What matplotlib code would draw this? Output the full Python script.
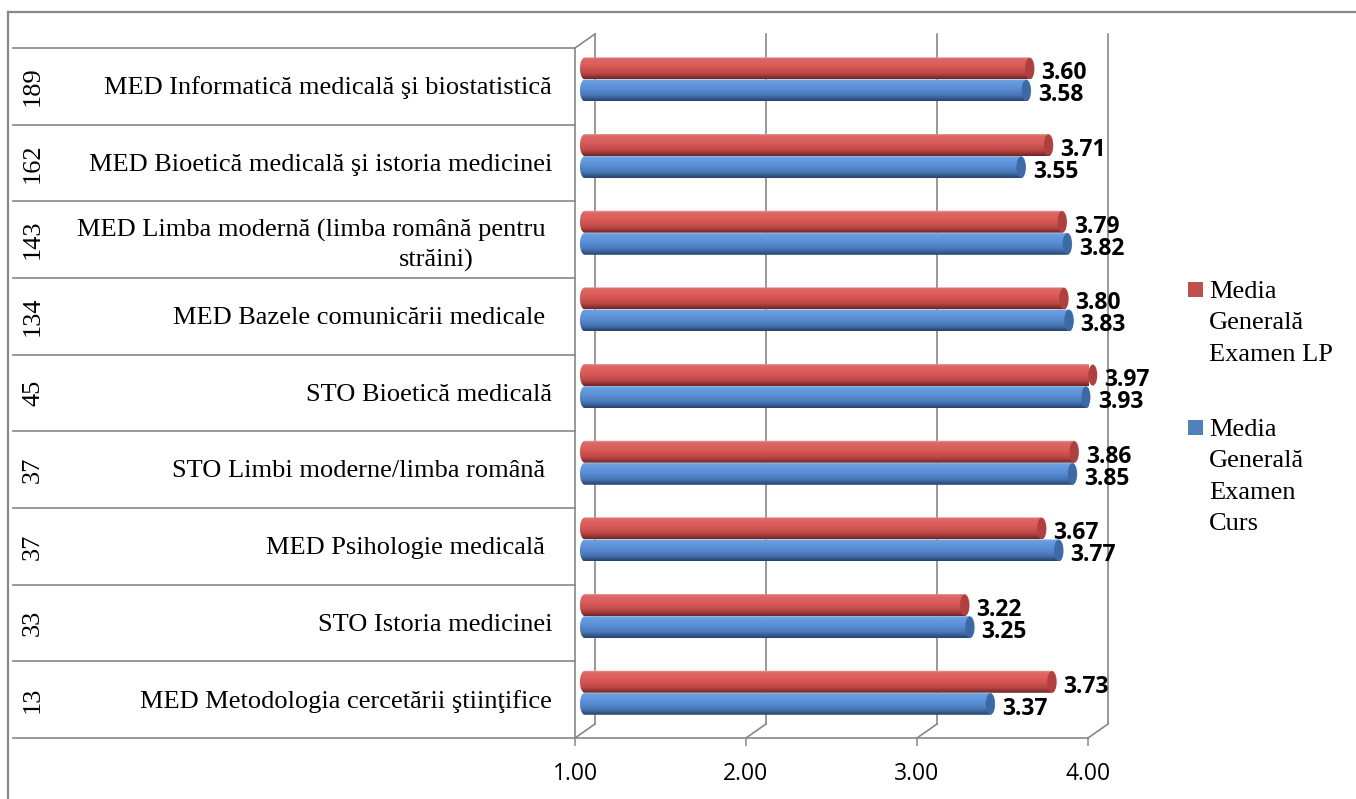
import numpy as np
import matplotlib.pyplot as plt
import matplotlib.transforms as mtransforms
from matplotlib.patches import Ellipse, PathPatch, Rectangle
from matplotlib.path import Path
from matplotlib.lines import Line2D
from matplotlib.colors import LinearSegmentedColormap

categories = [
    'MED Informatică medicală şi biostatistică',
    'MED Bioetică medicală şi istoria medicinei',
    'MED Limba modernă (limba română pentru \nstrăini)',
    'MED Bazele comunicării medicale ',
    'STO Bioetică medicală',
    'STO Limbi moderne/limba română ',
    'MED Psihologie medicală ',
    'STO Istoria medicinei',
    'MED Metodologia cercetării ştiinţifice',
]
counts = [189, 162, 143, 134, 45, 37, 37, 33, 13]
media_lp = [3.60, 3.71, 3.79, 3.80, 3.97, 3.86, 3.67, 3.22, 3.73]
media_curs = [3.58, 3.55, 3.82, 3.83, 3.93, 3.85, 3.77, 3.25, 3.37]
xticks = [1, 2, 3, 4]
series_names = ['Media\nGenerală\nExamen LP', 'Media\nGenerală\nExamen\nCurs']

W, H = 1356, 799
GRAY = '#888888'
SERIF = 'Liberation Serif'
plt.rcParams['font.family'] = ['Open Sans', 'DejaVu Sans']

# 3D look: offsets of the back wall and of the bars (data units)
BACK_DX, BACK_DY = 0.117, -0.183
BAR_DX = 0.058
PAIR_DY = -0.09
BAR_H = 0.287
CAP_W = 0.058

red_cmap = LinearSegmentedColormap.from_list('red', [
    (0.0, '#E9A6A4'), (0.1, '#E06866'), (0.45, '#D85A58'),
    (0.75, '#BC4846'), (0.9, '#913432'), (1.0, '#6B2523')])
blue_cmap = LinearSegmentedColormap.from_list('blue', [
    (0.0, '#A9C6EE'), (0.1, '#6A9EE0'), (0.45, '#5A8FD6'),
    (0.75, '#4876B5'), (0.9, '#34588B'), (1.0, '#26416A')])


def cylinder(ax, yc, v, cmap, capcol):
    x0, x1 = 1 + BAR_DX, v + BAR_DX
    rx, ry = CAP_W / 2, BAR_H / 2
    t = np.linspace(-np.pi / 2, np.pi / 2, 40)
    right = np.column_stack([x1 + rx * np.cos(t), yc + ry * np.sin(t)])
    left = np.column_stack([x0 - rx * np.cos(t[::-1]), yc + ry * np.sin(t[::-1])])
    verts = np.vstack([right, left, right[:1]])
    patch = PathPatch(Path(verts, closed=True), facecolor='none',
                      edgecolor='none', transform=ax.transData, clip_on=False)
    ax.add_patch(patch)
    grad = np.linspace(0, 1, 64).reshape(-1, 1)
    im = ax.imshow(grad, cmap=cmap, aspect='auto', interpolation='bicubic',
                   extent=(x0 - rx, x1 + rx, yc + ry, yc - ry), zorder=3)
    im.set_clip_path(patch)
    im.set_clip_box(None)
    ax.add_patch(Ellipse((x1, yc), 2 * rx * 0.9, 2 * ry * 0.96, facecolor=capcol,
                         edgecolor='none', zorder=4, clip_on=False))


fig = plt.figure(figsize=(W / 100, H / 100), dpi=100)
ax = fig.add_axes([575 / W, (H - 738) / H, (1088 - 575) / W, (738 - 48) / H])
for s in ax.spines.values():
    s.set_visible(False)

n = len(categories)
ypos = np.arange(n)

# back wall grid and floor edges
for v in xticks:
    ax.plot([v + BACK_DX] * 2, [-0.5 + BACK_DY, n - 0.5 + BACK_DY],
            color=GRAY, lw=1.2, clip_on=False, zorder=1)
    ax.plot([v, v + BACK_DX], [n - 0.5, n - 0.5 + BACK_DY],
            color=GRAY, lw=1.2, clip_on=False, zorder=1)
ax.plot([1, 1 + BACK_DX], [-0.5, -0.5 + BACK_DY], color=GRAY, lw=1.2, clip_on=False)
ax.plot([1, 1], [-0.5, n - 0.5], color=GRAY, lw=1.2, clip_on=False, zorder=2)
ax.plot([1, 4], [n - 0.5, n - 0.5], color=GRAY, lw=1.2, clip_on=False, zorder=2)

for i in range(n):
    yr = ypos[i] + PAIR_DY - BAR_H / 2
    yb = ypos[i] + PAIR_DY + BAR_H / 2
    cylinder(ax, yr, media_lp[i], red_cmap, '#B0403E')
    cylinder(ax, yb, media_curs[i], blue_cmap, '#3D69A5')
    ax.text(media_lp[i] + BAR_DX + CAP_W / 2 + 0.04, yr + 0.065, f'{media_lp[i]:.2f}',
            ha='left', va='center', fontsize=16.5, fontweight='bold', zorder=5)
    ax.text(media_curs[i] + BAR_DX + CAP_W / 2 + 0.04, yb + 0.065, f'{media_curs[i]:.2f}',
            ha='left', va='center', fontsize=16.5, fontweight='bold', zorder=5)

ax.set_xlim(1, 4)
ax.set_ylim(n - 0.5, -0.5)
ax.set_yticks([])
ax.set_xticks(xticks, labels=[f'{t:.2f}' for t in xticks])
ax.tick_params(axis='x', length=5.5, width=1.1, color=GRAY, pad=12, labelsize=16.5)

# category table on the left
trans = mtransforms.blended_transform_factory(fig.transFigure, ax.transData)
for k in range(n + 1):
    ax.plot([13 / W, 575 / W], [k - 0.5] * 2, color=GRAY, lw=1.2,
            transform=trans, clip_on=False)
for i, (lab, c) in enumerate(zip(categories, counts)):
    ax.text(33 / W, ypos[i], str(c), transform=trans, rotation=90,
            ha='center', va='center', family=SERIF, fontsize=19)
    lines = lab.split('\n')
    if len(lines) == 1:
        ax.text(552 / W, ypos[i] + 0.02, lab, transform=trans, ha='right',
                va='center', family=SERIF, fontsize=19)
    else:
        ax.text(552 / W, ypos[i] - 0.12, lines[0], transform=trans, ha='right',
                va='center', family=SERIF, fontsize=19)
        ax.text(436 / W, ypos[i] + 0.27, lines[1], transform=trans, ha='center',
                va='center', family=SERIF, fontsize=19)

# outer frame
fig.add_artist(Line2D([8 / W, 8 / W], [0, 1 - 12 / H], color=GRAY, lw=1.6))
fig.add_artist(Line2D([8 / W, 1], [1 - 12 / H] * 2, color=GRAY, lw=1.6))

# legend
leg_colors = ['#C0504D', '#4F81BD']
leg_tops = [281, 419]
for name, col, top in zip(series_names, leg_colors, leg_tops):
    fig.add_artist(Rectangle((1188 / W, 1 - (top + 16) / H), 15 / W, 15 / H,
                             transform=fig.transFigure, facecolor=col, edgecolor='none'))
    fig.text(1209 / W, 1 - top / H, name, ha='left', va='top', family=SERIF,
             fontsize=19, linespacing=1.55)

fig.savefig('out.png', dpi=100)
